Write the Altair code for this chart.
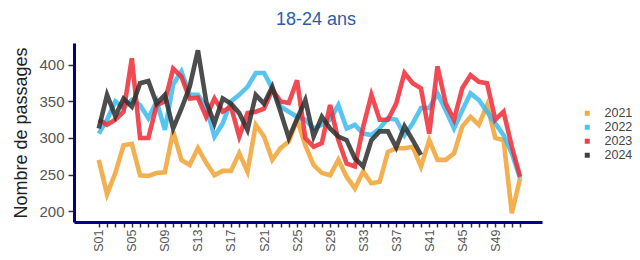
import altair as alt
import pandas as pd

weeks = ["S01","S02","S03","S04","S05","S06","S07","S08","S09","S10",
         "S11","S12","S13","S14","S15","S16","S17","S18","S19","S20",
         "S21","S22","S23","S24","S25","S26","S27","S28","S29","S30",
         "S31","S32","S33","S34","S35","S36","S37","S38","S39","S40",
         "S41","S42","S43","S44","S45","S46","S47","S48","S49","S50",
         "S51","S52"]

v2021 = [270, 223, 252, 290, 292, 249, 248, 252, 253, 309,
         270, 263, 286, 266, 249, 255, 255, 279, 254, 318,
         302, 270, 286, 295, 325, 290, 263, 252, 249, 270,
         247, 231, 254, 238, 240, 281, 286, 286, 288, 261,
         297, 270, 270, 279, 316, 329, 318, 345, 300, 297,
         197, 245]
v2022 = [306, 325, 350, 341, 352, 345, 327, 350, 311, 373,
         391, 359, 359, 343, 302, 320, 350, 359, 370, 389,
         389, 368, 343, 336, 329, 325, 313, 318, 325, 345,
         313, 318, 306, 304, 313, 327, 325, 304, 320, 341,
         341, 361, 338, 313, 338, 361, 352, 336, 320, 304,
         279, 245]
v2023 = [325, 318, 325, 336, 409, 300, 300, 345, 350, 395,
         384, 354, 355, 329, 354, 336, 343, 302, 334, 336,
         340, 366, 350, 348, 379, 300, 288, 293, 345, 297,
         265, 261, 315, 359, 325, 325, 347, 389, 375, 368,
         306, 398, 347, 325, 368, 386, 377, 375, 325, 336,
         288, 247]
v2024 = [313, 359, 330, 354, 343, 375, 378, 347, 359, 313,
         340, 370, 420, 350, 320, 354, 347, 334, 311, 359,
         347, 370, 336, 300, 326, 352, 302, 329, 313, 302,
         297, 272, 261, 297, 309, 309, 287, 316, 297, 277]

years = ["2021", "2022", "2023", "2024"]
colors = ["#F0A232", "#3BBBEE", "#EE2A35", "#2E2E2E"]

rows = []
for yr, vals in zip(years, [v2021, v2022, v2023, v2024]):
    for i, (w, v) in enumerate(zip(weeks, vals)):
        rows.append({"semaine": w, "num": i + 1, "annee": yr, "passages": v})
df = pd.DataFrame(rows)

week_nums = list(range(1, len(weeks) + 1))

chart = alt.Chart(df).mark_line(strokeWidth=4.6, opacity=0.85).encode(
    x=alt.X("num:Q",
            scale=alt.Scale(domain=[-2.0, 54.65], nice=False, zero=False),
            axis=alt.Axis(title=None, values=week_nums, labelAngle=-90, labelFontSize=12.5,
                          labelColor="#555555", tickSize=5, tickWidth=1.5,
                          tickColor="#333333", labelPadding=2, labelFlush=False,
                          labelOverlap=False, grid=False,
                          labelExpr="(datum.value - 1) % 4 == 0 ? (datum.value < 10 ? 'S0' : 'S') + datum.value : ''")),
    y=alt.Y("passages:Q", scale=alt.Scale(domain=[185, 430], nice=False, zero=False),
            axis=alt.Axis(title="Nombre de passages", values=[200, 250, 300, 350, 400],
                          labelFontSize=15, labelColor="#555555", tickSize=6,
                          tickWidth=1.5, tickColor="#333333", labelPadding=4,
                          titleFontSize=18, titleFontWeight="normal",
                          titleColor="#222222", titlePadding=8, grid=False)),
    color=alt.Color("annee:N", scale=alt.Scale(domain=years, range=colors),
                    legend=alt.Legend(title=None, orient="none", legendX=507, legendY=64,
                                      symbolType="square", symbolSize=4,
                                      symbolStrokeWidth=3, labelFontSize=12.5,
                                      labelColor="#444444", labelOffset=11,
                                      rowPadding=-2.3, padding=0, symbolOpacity=0.9)),
    detail="annee:N",
).properties(
    width=468, height=179,
    title=alt.TitleParams("18-24 ans", color="#2B5CA8", fontSize=18,
                          fontWeight="normal", anchor="middle", offset=12, dx=8),
    padding={"left": 66, "top": 35, "right": 90, "bottom": 30},
    autosize="none",
).configure(
    font="Liberation Sans",
).configure_view(
    stroke=None
).configure_axis(
    domainColor="#00008B", domainWidth=3, grid=False
)

chart.save("out.html", embed_options={"renderer": "svg", "actions": False})
